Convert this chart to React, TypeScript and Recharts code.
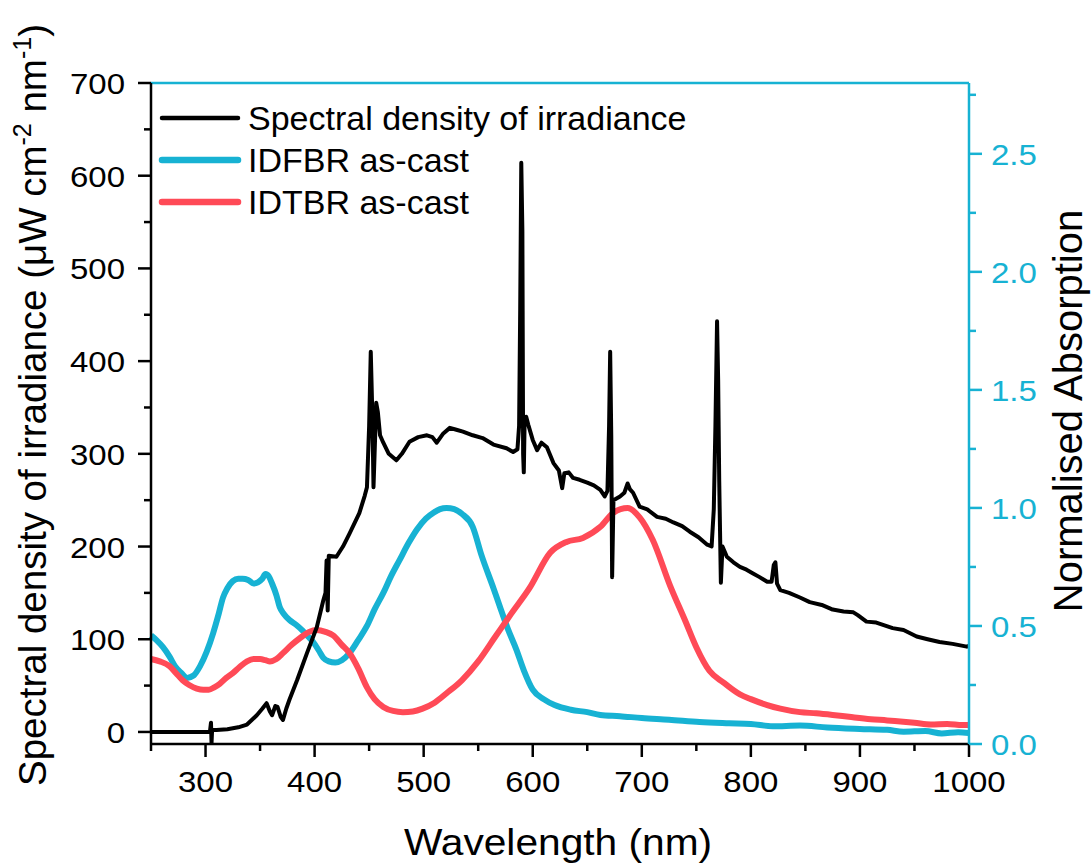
import React from "react";
import { LineChart, Line, XAxis, YAxis, Legend } from "recharts";

// irradiance spectrum (left axis, µW cm-2 nm-1)
const irrNm = [
  250, 300, 304, 305, 305.5, 306, 310, 320, 330, 338, 347, 352, 356, 359, 361, 364, 366, 369, 371, 374,
  377, 384, 393, 402, 408, 410, 411, 412, 413, 420, 426, 432, 441, 446, 448, 450, 451.5, 453, 454, 455,
  456.5, 458, 460, 463, 468, 475, 480, 487, 495, 503, 508, 512, 518, 524, 530, 536, 545, 554, 564, 576,
  582, 586, 587.5, 588.5, 589.5, 590.5, 591.2, 591.8, 592.5, 594, 596, 600, 604, 608, 613, 619, 624, 627, 629, 633,
  637, 643, 650, 656, 662, 666, 668.5, 670, 671, 672, 672.8, 674, 680, 684, 687, 689, 692, 698, 705, 714,
  722, 729, 737, 744, 752, 760, 764, 766, 767.5, 769, 770, 771, 772.5, 774, 778, 784, 790, 796, 802, 808,
  815, 819, 821, 822.5, 824, 827, 835, 845, 854, 865, 875, 885, 894, 898, 906, 915, 930, 940, 952, 962,
  973, 985, 998, 1000,
];
const irrVal = [
  0, 0, 0, 10, -12, 2, 2, 3, 5, 8, 18, 25, 31, 22, 18, 28, 27, 16, 13, 25,
  35, 56, 85, 113, 142, 150, 185, 131, 190, 189, 200, 214, 236, 255, 264, 330, 410, 340, 264, 300,
  355, 345, 320, 312, 300, 293, 300, 313, 318, 320, 318, 312, 322, 328, 326, 324, 320, 317, 310, 306,
  302, 305, 330, 455, 614, 540, 300, 280, 330, 340, 331, 315, 304, 312, 307, 290, 282, 263, 279, 280,
  274, 272, 269, 266, 261, 254, 260, 330, 410, 320, 167, 250, 254, 258, 268, 262, 258, 243, 240, 232,
  230, 226, 222, 216, 210, 202, 200, 240, 330, 443, 380, 270, 161, 200, 189, 183, 178, 175, 171, 167,
  162, 162, 180, 183, 160, 153, 150, 145, 140, 137, 132, 130, 129, 126, 119, 118, 112, 110, 103, 100,
  97, 95, 92, 93,
];

// IDFBR as-cast absorption (right axis)
const fbrNm = [
  250, 255, 261, 267, 272, 278, 283, 289, 295, 301, 307, 312, 316, 320, 325, 330, 334, 339, 344, 348,
  352, 355, 358, 361, 365, 368, 372, 377, 383, 389, 394, 399, 404, 408, 413, 419, 425, 432, 440, 448,
  455, 463, 470, 478, 486, 494, 502, 509, 515, 521, 528, 535, 545, 553, 564, 570, 577, 585, 592, 600,
  610, 620, 635, 650, 662, 680, 700, 725, 753, 780, 800, 820, 845, 870, 900, 925, 940, 960, 975, 990,
  1000,
];
const fbrVal = [
  0.46, 0.44, 0.41, 0.37, 0.33, 0.3, 0.28, 0.29, 0.33, 0.39, 0.47, 0.55, 0.62, 0.66, 0.69, 0.7, 0.7, 0.695, 0.68, 0.685,
  0.7, 0.72, 0.71, 0.68, 0.63, 0.58, 0.55, 0.525, 0.505, 0.48, 0.455, 0.43, 0.395, 0.365, 0.35, 0.345, 0.355, 0.385, 0.44, 0.5,
  0.57, 0.64, 0.71, 0.78, 0.85, 0.91, 0.955, 0.98, 0.995, 1.0, 0.995, 0.975, 0.92, 0.8, 0.66, 0.58, 0.49, 0.4, 0.31, 0.23,
  0.19, 0.165, 0.145, 0.135, 0.123, 0.118, 0.11, 0.103, 0.093, 0.088, 0.085, 0.075, 0.078, 0.07, 0.064, 0.06, 0.052, 0.055, 0.045, 0.05,
  0.047,
];

// IDTBR as-cast absorption (right axis)
const tbrNm = [
  250, 258, 267, 273, 279, 285, 292, 298, 303, 308, 313, 319, 325, 331, 338, 344, 350, 355, 359, 365,
  371, 379, 387, 395, 402, 410, 417, 425, 432, 440, 448, 455, 463, 472, 481, 490, 499, 510, 521, 535,
  550, 565, 580, 597, 616, 631, 646, 662, 674, 687, 698, 710, 726, 740, 750, 762, 775, 790, 800, 815,
  827, 845, 860, 875, 890, 910, 925, 937, 950, 965, 980, 994, 1000,
];
const tbrVal = [
  0.36, 0.35, 0.33, 0.3, 0.27, 0.25, 0.235, 0.23, 0.23, 0.24, 0.255, 0.28, 0.3, 0.325, 0.35, 0.36, 0.36, 0.355, 0.35, 0.36,
  0.385, 0.42, 0.45, 0.475, 0.483, 0.475, 0.46, 0.42, 0.385, 0.32, 0.24, 0.19, 0.157, 0.14, 0.135, 0.138, 0.15, 0.175, 0.215, 0.27,
  0.35, 0.45, 0.55, 0.66, 0.81, 0.856, 0.873, 0.92, 0.98, 1.0, 0.96, 0.865, 0.67, 0.52, 0.41, 0.31, 0.26, 0.21, 0.19, 0.165,
  0.15, 0.135, 0.13, 0.123, 0.115, 0.105, 0.1, 0.095, 0.09, 0.083, 0.085, 0.08, 0.08,
];

const xTicks = [250, 300, 350, 400, 450, 500, 550, 600, 650, 700, 750, 800, 850, 900, 950, 1000];
const leftTicks = [0, 50, 100, 150, 200, 250, 300, 350, 400, 450, 500, 550, 600, 650, 700];
const rightTicks = [0, 0.25, 0.5, 0.75, 1, 1.25, 1.5, 1.75, 2, 2.25, 2.5, 2.75];

const seriesNames = ["Spectral density of irradiance", "IDFBR as-cast", "IDTBR as-cast"];

const FONT = '"Liberation Sans", Arial, Helvetica, sans-serif';
const CYAN = "#17b2d3";
const RED = "#ff4a57";

const irrData = irrNm.map((nm, i) => ({ nm, v: irrVal[i] }));
const fbrData = fbrNm.map((nm, i) => ({ nm, v: fbrVal[i] }));
const tbrData = tbrNm.map((nm, i) => ({ nm, v: tbrVal[i] }));

const BottomTick = ({ x, y, payload }: any) => {
  const major = payload.value % 100 === 0;
  return (
    <g>
      <line x1={x} y1={y} x2={x} y2={y + (major ? 13 : 7)} stroke="#000" strokeWidth={2.5} />
      {major && (
        <text transform={`translate(${x},${y + 48}) scale(1.1,1)`} textAnchor="middle" fontSize={30} fontFamily={FONT} fill="#000">
          {payload.value}
        </text>
      )}
    </g>
  );
};

const TopTick = ({ x, y }: any) => (
  <line x1={x} y1={y} x2={x} y2={y + 11} stroke={CYAN} strokeWidth={2.5} />
);

const LeftTick = ({ x, y, payload }: any) => {
  const major = payload.value % 100 === 0;
  return (
    <g>
      <line x1={x} y1={y} x2={x - (major ? 13 : 7)} y2={y} stroke="#000" strokeWidth={2.5} />
      {major && (
        <text transform={`translate(${x - 26},${y + 11}) scale(1.1,1)`} textAnchor="end" fontSize={30} fontFamily={FONT} fill="#000">
          {payload.value}
        </text>
      )}
    </g>
  );
};

const RightTick = ({ x, y, payload }: any) => {
  const major = Math.round(payload.value * 100) % 50 === 0;
  return (
    <g>
      <line x1={x} y1={y} x2={x + (major ? 13 : 7)} y2={y} stroke={CYAN} strokeWidth={2.5} />
      {major && (
        <text transform={`translate(${x + 22},${y + 11}) scale(1.1,1)`} textAnchor="start" fontSize={30} fontFamily={FONT} fill={CYAN}>
          {payload.value.toFixed(1)}
        </text>
      )}
    </g>
  );
};

const LegendBox = ({ payload }: any) => {
  const items = [...(payload || [])].sort(
    (a: any, b: any) => seriesNames.indexOf(a.value) - seriesNames.indexOf(b.value)
  );
  return (
    <svg width={720} height={230} style={{ display: "block" }}>
      {items.map((p: any, i: number) => (
        <g key={p.value}>
          <line x1={162} x2={238} y1={118 + 42 * i} y2={118 + 42 * i} stroke={p.color} strokeWidth={i === 0 ? 4.5 : 6.5} strokeLinecap="round" />
          <text x={248} y={130 + 42 * i} fontSize={34} fontFamily={FONT} fill="#000">
            {p.value}
          </text>
        </g>
      ))}
    </svg>
  );
};

const XTitle = () => (
  <text transform="translate(558,855) scale(1.1,1)" textAnchor="middle" fontSize={37} fontFamily={FONT} fill="#000">
    Wavelength (nm)
  </text>
);

const LeftTitle = () => (
  <text transform="translate(46,405) rotate(-90)" textAnchor="middle" fontSize={38.5} fontFamily={FONT} fill="#000">
    Spectral density of irradiance (μW cm
    <tspan fontSize={25} dy={-15}>-2</tspan>
    <tspan dy={15}> nm</tspan>
    <tspan fontSize={25} dy={-15}>-1</tspan>
    <tspan dy={15}>)</tspan>
  </text>
);

const RightTitle = () => (
  <text transform="translate(1082,411) rotate(-90)" textAnchor="middle" fontSize={40} fontFamily={FONT} fill="#000">
    Normalised Absorption
  </text>
);

export default function App() {
  return (
    <div style={{ position: "absolute", left: 0, top: 0, background: "#fff" }}>
      <LineChart width={1091} height={865} margin={{ top: 82, right: 0, bottom: 0, left: 0 }}>
        <XAxis
          xAxisId="x"
          dataKey="nm"
          type="number"
          domain={[250, 1000]}
          ticks={xTicks}
          interval={0}
          height={121}
          tickSize={0}
          tickMargin={0}
          tickLine={false}
          axisLine={{ stroke: "#000", strokeWidth: 2.5 }}
          tick={BottomTick}
          label={XTitle}
        />
        <XAxis
          xAxisId="top"
          orientation="top"
          type="number"
          domain={[250, 1000]}
          ticks={xTicks}
          interval={0}
          height={1}
          tickSize={0}
          tickMargin={0}
          tickLine={false}
          axisLine={{ stroke: CYAN, strokeWidth: 2.5 }}
          tick={TopTick}
        />
        <YAxis
          yAxisId="left"
          type="number"
          domain={[-13, 700]}
          ticks={leftTicks}
          interval={0}
          width={151}
          tickSize={0}
          tickMargin={0}
          tickLine={false}
          axisLine={{ stroke: "#000", strokeWidth: 2.5 }}
          tick={LeftTick}
          label={LeftTitle}
        />
        <YAxis
          yAxisId="right"
          orientation="right"
          type="number"
          domain={[0, 2.8]}
          ticks={rightTicks}
          interval={0}
          width={122}
          tickSize={0}
          tickMargin={0}
          tickLine={false}
          axisLine={{ stroke: CYAN, strokeWidth: 2.5 }}
          tick={RightTick}
          label={RightTitle}
        />
        <Legend
          layout="horizontal"
          verticalAlign="middle"
          align="center"
          wrapperStyle={{ left: 0, top: 0, width: 720, height: 230 }}
          content={LegendBox}
        />
        <Line
          data={fbrData}
          dataKey="v"
          xAxisId="x"
          yAxisId="right"
          type="monotone"
          stroke={CYAN}
          strokeWidth={6}
          dot={false}
          name={seriesNames[1]}
          isAnimationActive={false}
        />
        <Line
          data={tbrData}
          dataKey="v"
          xAxisId="x"
          yAxisId="right"
          type="monotone"
          stroke={RED}
          strokeWidth={6}
          dot={false}
          name={seriesNames[2]}
          isAnimationActive={false}
        />
        <Line
          data={irrData}
          dataKey="v"
          xAxisId="x"
          yAxisId="left"
          type="linear"
          stroke="#000"
          strokeWidth={4}
          strokeLinejoin="round"
          dot={false}
          name={seriesNames[0]}
          isAnimationActive={false}
        />
      </LineChart>
    </div>
  );
}
